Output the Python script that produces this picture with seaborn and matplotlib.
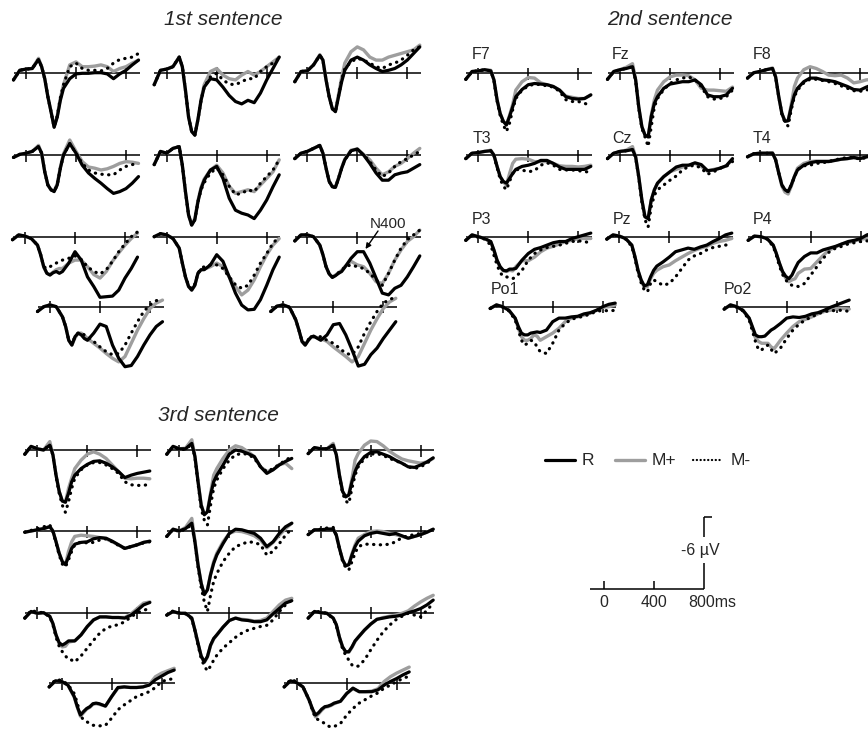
import matplotlib
matplotlib.use("Agg")
import matplotlib.pyplot as plt
import seaborn as sns

# time points (ms) shared by every waveform
T = [-100, -50, 0, 50, 100, 125, 150, 175, 200, 225, 250, 275, 300,
     350, 400, 450, 500, 550, 600, 650, 700, 750, 800, 850, 900]

# ---- 1st sentence (amplitudes in microvolts, negative up) ----
s1_11_R = [0.6, -0.2, -0.3, -0.35, -1.1, -0.5, 0.5, 2.0, 3.25, 4.55, 3.7, 2.3, 1.3, 0.5, 0.1, 0.05, 0.05, 0, 0, 0.1, 0.5, 0.1, -0.2, -0.65, -1.05]
s1_11_Mp = [0.6, -0.2, -0.3, -0.35, -1.2, -0.5, 0.5, 2.0, 3.2, 4.5, 3.6, 2.1, 1.0, -0.65, -0.9, -0.5, -0.5, -0.55, -0.65, -0.5, -0.1, -0.35, -0.5, -0.8, -1.05]
s1_11_Mm = [0.6, -0.2, -0.3, -0.35, -1.1, -0.5, 0.5, 2.0, 3.25, 4.5, 3.6, 2.1, 1.0, -0.5, -0.8, -0.35, -0.2, -0.2, -0.15, -0.35, -0.8, -1.1, -1.2, -1.3, -1.6]

s1_12_R = [1.0, -0.2, -0.3, -0.5, -1.3, -0.5, 1.45, 3.7, 4.9, 5.2, 3.9, 2.3, 1.2, 0.5, 0.6, 1.2, 1.9, 2.4, 2.6, 2.3, 2.5, 1.7, 0.6, -0.35, -1.3]
s1_12_Mp = [1.0, -0.2, -0.3, -0.5, -1.3, -0.5, 1.45, 3.7, 4.9, 5.2, 3.9, 2.2, 1.0, -0.1, -0.35, 0.2, 0.5, 0.6, 0.2, -0.1, 0.2, -0.1, -0.5, -0.9, -1.3]
s1_12_Mm = [1.0, -0.2, -0.3, -0.5, -1.3, -0.5, 1.45, 3.7, 4.9, 5.2, 3.9, 2.3, 1.2, 0.35, 0.05, 0.6, 0.95, 1.0, 0.75, 0.5, 0.5, -0.1, -0.5, -0.8, -1.2]

s1_13_R = [0.75, -0.1, -0.15, -0.65, -1.45, -1.05, 0.6, 2.0, 3.0, 3.25, 2.0, 0.75, -0.2, -1.05, -1.3, -1.05, -0.65, -0.35, -0.1, -0.2, -0.35, -0.65, -1.05, -1.6, -2.15]
s1_13_Mp = [0.75, -0.1, -0.15, -0.65, -1.5, -1.05, 0.6, 2.0, 3.0, 3.2, 1.8, 0.4, -0.8, -1.75, -2.15, -1.9, -1.3, -1.05, -1.05, -1.3, -1.45, -1.6, -1.75, -1.9, -2.3]
s1_13_Mm = [0.75, -0.1, -0.15, -0.65, -1.45, -1.05, 0.6, 2.0, 3.0, 3.25, 1.95, 0.6, -0.35, -0.9, -1.2, -1.05, -0.8, -0.5, -0.35, -0.65, -0.8, -1.05, -1.45, -1.9, -2.15]

s1_21_R = [0.2, -0.05, -0.15, -0.3, -0.7, -0.15, 1.4, 2.5, 2.9, 3.05, 2.5, 1.1, 0, -0.95, -0.15, 0.85, 1.5, 1.95, 2.35, 2.8, 3.2, 3.05, 2.8, 2.35, 1.8]
s1_21_Mp = [0.2, -0.05, -0.15, -0.3, -0.8, -0.15, 1.4, 2.5, 2.9, 3.0, 2.4, 1.0, -0.1, -1.25, -0.3, 0.55, 1.0, 1.1, 1.25, 1.15, 0.95, 0.7, 0.55, 0.6, 0.7]
s1_21_Mm = [0.2, -0.05, -0.15, -0.3, -0.7, -0.15, 1.4, 2.5, 2.9, 3.05, 2.5, 1.1, 0, -0.95, -0.15, 0.7, 1.25, 1.5, 1.6, 1.65, 1.65, 1.25, 0.95, 0.8, 0.7]

s1_22_R = [0.8, -0.3, -0.15, -0.55, -0.7, 0.85, 3.05, 5.0, 5.85, 5.4, 3.9, 2.8, 2.1, 1.25, 0.95, 1.95, 3.6, 4.6, 4.85, 5.0, 5.3, 4.6, 3.75, 2.65, 1.65]
s1_22_Mp = [0.8, -0.3, -0.15, -0.55, -0.7, 0.85, 3.05, 5.0, 5.8, 5.3, 3.8, 2.7, 2.0, 1.25, 0.85, 1.5, 2.6, 3.2, 3.05, 2.9, 3.05, 2.5, 1.95, 1.4, 0.4]
s1_22_Mm = [0.8, -0.3, -0.15, -0.55, -0.7, 0.85, 3.05, 5.0, 5.85, 5.4, 3.9, 2.9, 2.3, 1.5, 1.1, 1.65, 2.6, 3.3, 3.2, 2.9, 3.05, 2.35, 1.8, 1.25, 0.4]

s1_23_R = [0.3, -0.15, -0.3, -0.55, -0.8, -0.15, 1.1, 2.2, 2.65, 2.7, 1.95, 1.1, 0.4, -0.35, -0.5, 0, 0.7, 1.5, 2.1, 2.1, 1.65, 1.5, 1.4, 1.1, 0.8]
s1_23_Mp = [0.3, -0.15, -0.3, -0.55, -0.8, -0.15, 1.1, 2.2, 2.6, 2.65, 1.9, 1.05, 0.35, -0.4, -0.5, -0.05, 0.4, 1.1, 1.65, 1.4, 0.95, 0.7, 0.3, -0.15, -0.55]
s1_23_Mm = [0.3, -0.15, -0.3, -0.55, -0.8, -0.15, 1.1, 2.2, 2.65, 2.7, 1.95, 1.1, 0.4, -0.35, -0.45, 0, 0.55, 1.25, 1.8, 1.5, 0.95, 0.55, 0.3, 0, -0.3]

s1_31_R = [0.2, -0.2, -0.1, 0.1, 0.65, 1.45, 2.45, 3.0, 3.15, 2.95, 2.85, 3.0, 2.85, 2.15, 1.2, 1.9, 3.3, 4.1, 5.0, 4.95, 4.9, 4.4, 3.4, 2.6, 1.65]
s1_31_Mp = [0.2, -0.2, -0.1, 0.1, 0.65, 1.45, 2.5, 3.0, 3.1, 2.9, 2.7, 2.6, 2.6, 2.15, 1.9, 1.9, 2.45, 3.1, 3.4, 2.85, 2.0, 1.3, 0.65, 0.1, -0.35]
s1_31_Mm = [0.2, -0.2, -0.1, 0.1, 0.65, 1.45, 2.45, 2.6, 2.45, 2.3, 2.15, 2.0, 1.9, 1.75, 1.55, 1.85, 2.45, 2.85, 3.05, 2.7, 2.0, 1.2, 0.55, -0.05, -0.45]

s1_32_R = [-0.05, -0.3, -0.2, 0.1, 0.9, 2.15, 3.3, 4.1, 4.4, 4.0, 3.0, 2.7, 2.7, 2.3, 1.45, 2.0, 3.3, 4.65, 5.65, 6.05, 6.0, 5.2, 4.0, 2.7, 1.65]
s1_32_Mp = [-0.05, -0.3, -0.2, 0.1, 0.9, 2.15, 3.3, 4.1, 4.4, 4.0, 3.0, 2.7, 2.65, 2.45, 2.15, 2.45, 3.3, 4.1, 4.8, 4.4, 3.55, 2.45, 1.45, 0.65, 0.1]
s1_32_Mm = [-0.05, -0.3, -0.2, 0.1, 0.9, 2.15, 3.3, 4.0, 4.3, 3.9, 3.0, 2.6, 2.45, 2.3, 2.3, 2.6, 3.3, 3.95, 4.25, 4.0, 3.15, 2.15, 1.35, 0.5, -0.05]

s1_33_R = [0.3, -0.2, -0.2, -0.05, 0.65, 1.45, 2.45, 3.05, 3.35, 3.2, 3.0, 2.85, 2.5, 1.75, 1.2, 1.2, 2.15, 3.4, 4.65, 4.8, 4.25, 4.0, 3.3, 2.45, 1.55]
s1_33_Mp = [0.3, -0.2, -0.2, -0.05, 0.65, 1.45, 2.45, 3.05, 3.3, 3.15, 2.95, 2.75, 2.45, 2.0, 2.3, 2.45, 3.0, 3.7, 3.85, 3.0, 1.9, 1.05, 0.35, -0.05, -0.6]
s1_33_Mm = [0.3, -0.2, -0.2, -0.05, 0.65, 1.45, 2.45, 3.05, 3.3, 3.15, 2.95, 2.8, 2.45, 2.3, 2.45, 2.6, 3.0, 3.55, 4.0, 3.0, 1.9, 0.9, 0.2, -0.2, -0.6]

s1_41_R = [0.4, 0, -0.15, 0, 0.85, 1.65, 2.8, 3.2, 2.5, 2.2, 2.35, 2.65, 2.8, 2.2, 1.45, 1.65, 3.2, 4.3, 5.0, 4.9, 4.15, 3.2, 2.35, 1.65, 1.25]
s1_41_Mp = [0.4, 0, -0.15, 0, 0.85, 1.65, 2.8, 3.2, 2.6, 2.2, 2.2, 2.4, 2.65, 3.05, 3.45, 3.9, 4.3, 4.6, 4.15, 3.05, 1.95, 1.0, 0.15, -0.3, -0.55]
s1_41_Mm = [0.4, 0, -0.15, 0, 0.85, 1.65, 2.8, 3.1, 2.5, 2.2, 2.2, 2.35, 2.5, 2.9, 3.35, 3.75, 4.0, 3.9, 3.2, 2.2, 1.25, 0.4, -0.15, -0.5, -0.7]

s1_42_R = [0.4, -0.05, -0.15, 0.05, 1.1, 1.95, 2.9, 3.2, 2.8, 2.5, 2.5, 2.65, 2.8, 2.35, 1.5, 1.4, 2.35, 3.6, 4.95, 4.8, 4.0, 3.45, 2.65, 1.95, 1.25]
s1_42_Mp = [0.4, -0.05, -0.15, 0.05, 1.1, 1.95, 2.9, 3.2, 2.8, 2.5, 2.5, 2.6, 2.65, 2.9, 3.35, 3.75, 4.15, 4.6, 4.15, 3.05, 1.95, 1.0, 0.15, -0.4, -0.7]
s1_42_Mm = [0.4, -0.05, -0.15, 0.05, 1.1, 1.95, 2.9, 3.1, 2.75, 2.45, 2.45, 2.5, 2.5, 2.8, 3.05, 3.45, 3.9, 4.0, 3.35, 2.2, 1.25, 0.4, -0.3, -0.6, -0.8]

# ---- 2nd sentence, by electrode ----
f7_R = [0.5, -0.15, -0.2, -0.3, -0.2, 0.55, 2.2, 3.35, 4.0, 4.3, 3.6, 2.8, 1.95, 1.35, 0.95, 0.85, 0.9, 0.95, 1.1, 1.4, 1.95, 2.1, 2.15, 2.1, 1.8]
f7_Mp = [0.5, -0.15, -0.2, -0.3, -0.25, 0.55, 2.2, 3.35, 4.0, 4.3, 3.5, 2.6, 1.4, 0.7, 0.35, 0.4, 0.8, 0.95, 1.1, 1.4, 1.9, 2.0, 2.1, 2.1, 1.8]
f7_Mm = [0.5, -0.15, -0.2, -0.3, -0.2, 0.6, 2.3, 3.5, 4.3, 4.85, 4.15, 3.05, 2.1, 1.4, 1.05, 0.9, 0.95, 1.05, 1.15, 1.5, 2.2, 2.35, 2.35, 2.5, 2.7]

fz_R = [0.5, -0.15, -0.3, -0.4, -0.55, 0.55, 2.8, 4.45, 5.15, 5.3, 3.6, 2.5, 1.95, 1.25, 0.9, 0.8, 0.7, 0.7, 0.55, 0.95, 1.8, 1.95, 1.95, 1.8, 1.25]
fz_Mp = [0.5, -0.15, -0.3, -0.5, -0.8, 0.5, 2.8, 4.45, 5.15, 5.3, 3.5, 2.2, 1.4, 0.7, 0.3, 0.15, 0.15, 0.2, 0.55, 1.25, 1.4, 1.4, 1.45, 1.5, 1.15]
fz_Mm = [0.5, -0.15, -0.3, -0.4, -0.55, 0.6, 2.9, 4.6, 5.3, 6.1, 4.45, 2.8, 2.1, 1.35, 0.85, 0.55, 0.4, 0.3, 0.55, 1.1, 1.95, 2.15, 2.1, 1.95, 1.4]

f8_R = [0.4, -0.05, -0.15, -0.3, -0.4, 0.3, 1.95, 3.35, 4.0, 3.95, 2.8, 1.8, 1.25, 0.7, 0.4, 0.4, 0.55, 0.6, 0.7, 0.9, 1.1, 1.35, 1.4, 1.15, 0.95]
f8_Mp = [0.4, -0.05, -0.15, -0.3, -0.45, 0.3, 1.95, 3.35, 4.0, 3.95, 2.6, 1.1, 0.4, -0.3, -0.55, -0.4, -0.15, 0.15, 0.2, 0.15, 0.4, 0.8, 0.7, 0.55, 0.5]
f8_Mm = [0.4, -0.05, -0.15, -0.3, -0.4, 0.3, 1.95, 3.4, 4.1, 4.4, 3.05, 1.95, 1.4, 0.8, 0.5, 0.5, 0.6, 0.7, 0.85, 1.05, 1.25, 1.45, 1.5, 1.4, 1.25]

t3_R = [0.3, -0.15, -0.2, -0.3, -0.35, 0, 0.95, 1.8, 2.2, 2.35, 1.95, 1.55, 1.2, 0.95, 0.85, 0.7, 0.45, 0.45, 0.7, 1.0, 1.2, 1.2, 1.2, 1.2, 0.95]
t3_Mp = [0.3, -0.15, -0.2, -0.3, -0.4, 0, 0.95, 1.8, 2.25, 2.5, 1.55, 0.7, 0.35, 0.3, 0.35, 0.55, 0.55, 0.55, 0.7, 0.9, 0.95, 0.95, 1.0, 0.95, 0.85]
t3_Mm = [0.3, -0.15, -0.2, -0.3, -0.35, 0.05, 1.05, 2.0, 2.6, 2.9, 2.2, 1.55, 1.2, 1.25, 1.4, 1.3, 0.85, 0.65, 0.85, 1.2, 1.25, 1.25, 1.3, 1.4, 1.4]

cz_R = [0.3, -0.15, -0.3, -0.35, -0.45, 0.15, 1.8, 3.75, 5.15, 5.3, 3.75, 2.9, 2.35, 1.8, 1.4, 1.0, 0.85, 0.85, 0.65, 0.8, 1.3, 1.25, 1.1, 0.9, 0.3]
cz_Mp = [0.3, -0.15, -0.3, -0.4, -0.7, 0.15, 1.8, 3.75, 5.15, 5.3, 3.75, 2.9, 2.35, 1.8, 1.4, 1.2, 1.0, 0.85, 0.7, 0.95, 1.35, 1.2, 1.1, 0.9, 0.4]
cz_Mm = [0.3, -0.15, -0.3, -0.35, -0.45, 0.2, 1.9, 3.9, 5.4, 6.0, 4.3, 3.35, 2.9, 2.5, 2.1, 1.75, 1.25, 0.95, 0.85, 1.1, 1.6, 1.4, 1.1, 0.95, 0.55]

t4_R = [0.15, -0.1, -0.15, -0.15, -0.15, 0.4, 1.5, 2.5, 2.9, 3.05, 2.5, 1.8, 1.25, 0.85, 0.65, 0.55, 0.55, 0.55, 0.45, 0.35, 0.3, 0.2, 0.3, 0.15, 0]
t4_Mp = [0.15, -0.1, -0.15, -0.15, -0.2, 0.4, 1.5, 2.6, 3.1, 3.25, 2.6, 1.8, 1.1, 0.7, 0.55, 0.5, 0.5, 0.5, 0.45, 0.35, 0.3, 0.25, 0.3, 0.2, 0.05]
t4_Mm = [0.15, -0.1, -0.15, -0.15, -0.15, 0.4, 1.5, 2.5, 2.9, 3.05, 2.5, 1.85, 1.2, 0.9, 0.85, 0.7, 0.65, 0.55, 0.4, 0.3, 0.2, 0.2, 0.35, 0.2, 0.15]

p3_R = [0.3, -0.15, 0, 0.15, 0.4, 1.1, 1.95, 2.5, 2.8, 2.85, 2.7, 2.7, 2.65, 1.95, 1.4, 1.05, 0.9, 0.7, 0.5, 0.4, 0.4, 0.15, 0, -0.15, -0.3]
p3_Mp = [0.3, -0.15, 0, 0.15, 0.45, 1.15, 2.0, 2.55, 2.85, 2.9, 2.8, 2.85, 2.5, 2.0, 2.0, 1.7, 1.25, 0.95, 0.8, 0.6, 0.4, 0.3, 0.15, 0.15, 0.15]
p3_Mm = [0.3, -0.1, 0.05, 0.2, 0.7, 1.55, 2.35, 3.0, 3.3, 3.35, 3.4, 3.5, 3.35, 2.8, 1.95, 1.4, 1.1, 0.9, 0.8, 0.7, 0.55, 0.4, 0.35, 0.4, 0.55]

pz_R = [0.2, -0.15, -0.05, 0.15, 0.7, 1.65, 2.8, 3.6, 4.1, 4.0, 3.35, 2.8, 2.45, 2.1, 1.7, 1.25, 1.1, 0.95, 1.05, 0.85, 0.7, 0.4, 0.15, -0.15, -0.3]
pz_Mp = [0.2, -0.15, -0.05, 0.15, 0.7, 1.65, 2.85, 3.7, 4.2, 4.15, 3.5, 3.05, 2.8, 2.5, 2.35, 2.0, 1.7, 1.4, 1.15, 0.95, 0.8, 0.55, 0.4, 0.3, 0.15]
pz_Mm = [0.2, -0.1, 0, 0.2, 0.8, 1.8, 3.0, 3.85, 4.45, 4.6, 3.9, 3.6, 3.75, 4.05, 3.9, 3.35, 2.65, 1.95, 1.6, 1.4, 1.1, 0.9, 0.8, 0.7, 0.6]

p4_R = [0.3, -0.05, 0, 0.15, 0.7, 1.4, 2.2, 2.9, 3.3, 3.5, 3.2, 2.65, 2.15, 1.65, 1.35, 1.35, 1.1, 0.95, 0.8, 0.6, 0.4, 0.3, 0.15, -0.15, -0.3]
p4_Mp = [0.3, -0.05, 0, 0.15, 0.7, 1.4, 2.25, 3.0, 3.45, 3.75, 3.6, 3.5, 3.05, 2.7, 2.65, 2.1, 1.55, 1.1, 0.85, 0.6, 0.5, 0.35, 0.2, 0.15, 0.15]
p4_Mm = [0.3, -0.05, 0, 0.2, 0.8, 1.55, 2.45, 3.15, 3.6, 3.9, 4.05, 4.05, 4.15, 3.9, 3.2, 2.5, 1.8, 1.25, 0.95, 0.8, 0.6, 0.5, 0.4, 0.35, 0.3]

po1_R = [0.15, -0.15, 0, 0.3, 0.95, 1.65, 2.2, 2.35, 2.35, 2.2, 2.15, 2.1, 2.15, 1.95, 1.25, 0.95, 0.95, 0.85, 0.8, 0.6, 0.5, 0.3, 0, -0.2, -0.3]
po1_Mp = [0.15, -0.15, 0, 0.3, 1.0, 1.8, 2.5, 2.8, 2.8, 2.65, 2.35, 2.45, 2.8, 2.5, 2.2, 1.8, 1.25, 0.95, 0.85, 0.7, 0.55, 0.3, 0.05, 0, -0.15]
po1_Mm = [0.15, -0.1, 0.05, 0.35, 1.1, 1.95, 2.8, 3.2, 3.05, 2.8, 2.9, 3.35, 3.75, 3.9, 3.05, 1.95, 1.4, 1.05, 0.9, 0.8, 0.6, 0.4, 0.3, 0.35, 0.3]

po2_R = [0.2, -0.15, 0, 0.3, 0.95, 1.65, 2.35, 2.5, 2.5, 2.45, 2.2, 1.95, 1.8, 1.4, 0.95, 0.85, 0.9, 0.8, 0.6, 0.5, 0.3, 0.05, -0.15, -0.35, -0.55]
po2_Mp = [0.2, -0.15, 0, 0.3, 1.0, 1.8, 2.6, 2.9, 3.05, 3.05, 3.05, 3.35, 3.5, 2.8, 2.2, 1.65, 1.25, 1.05, 0.85, 0.6, 0.4, 0.3, 0.15, 0.15, 0.2]
po2_Mm = [0.2, -0.1, 0.05, 0.35, 1.1, 2.0, 2.9, 3.6, 3.6, 3.35, 3.2, 3.55, 3.9, 3.45, 2.65, 1.95, 1.45, 1.1, 0.85, 0.6, 0.4, 0.35, 0.3, 0.3, 0.4]

# ---- 3rd sentence ----
s3_11_R = [0.35, -0.3, -0.1, 0, -0.4, 0.4, 2.1, 3.45, 4.25, 4.35, 3.6, 2.65, 2.1, 1.55, 1.2, 0.95, 0.9, 1.1, 1.4, 1.8, 2.3, 2.1, 1.95, 1.85, 1.75]
s3_11_Mp = [0.35, -0.3, -0.1, 0, -0.7, 0.4, 2.1, 3.45, 4.25, 4.35, 3.2, 2.35, 1.55, 0.85, 0.35, 0.15, 0.35, 0.7, 1.25, 1.8, 2.35, 2.4, 2.35, 2.35, 2.4]
s3_11_Mm = [0.35, -0.3, -0.1, 0, -0.45, 0.45, 2.2, 3.6, 4.6, 5.2, 4.3, 3.2, 2.35, 1.65, 1.25, 1.05, 1.05, 1.25, 1.55, 1.95, 2.65, 2.9, 2.95, 2.95, 2.85]

s3_12_R = [0.35, -0.3, -0.1, -0.1, -0.55, 0.55, 2.65, 4.6, 5.4, 5.15, 3.75, 2.65, 2.1, 1.25, 0.35, 0, 0.1, 0.3, 0.55, 1.4, 1.95, 1.65, 1.25, 0.95, 0.7]
s3_12_Mp = [0.35, -0.3, -0.1, -0.15, -0.85, 0.5, 2.6, 4.55, 5.35, 5.1, 3.6, 2.1, 1.55, 0.7, 0, -0.35, -0.2, 0.15, 0.55, 1.4, 1.8, 1.65, 1.2, 1.1, 1.55]
s3_12_Mm = [0.35, -0.25, -0.05, -0.05, -0.5, 0.6, 2.8, 4.9, 5.85, 6.25, 4.6, 3.2, 2.5, 1.55, 0.85, 0.4, 0.3, 0.35, 0.7, 1.4, 1.8, 1.55, 1.2, 0.85, 0.55]

s3_13_R = [0.3, -0.2, -0.1, -0.1, -0.4, 0.4, 2.1, 3.45, 3.9, 3.75, 2.65, 1.8, 1.2, 0.55, 0.2, 0.15, 0.35, 0.55, 0.85, 1.1, 1.4, 1.45, 1.25, 1.0, 0.65]
s3_13_Mp = [0.3, -0.2, -0.1, -0.1, -0.55, 0.4, 2.1, 3.45, 3.9, 3.7, 2.4, 0.85, 0.3, -0.4, -0.75, -0.7, -0.35, 0.1, 0.45, 0.75, 0.9, 1.0, 1.1, 1.0, 0.7]
s3_13_Mm = [0.3, -0.2, -0.1, -0.1, -0.4, 0.45, 2.2, 3.6, 4.25, 4.45, 3.2, 2.1, 1.4, 0.7, 0.35, 0.3, 0.45, 0.7, 0.9, 1.1, 1.4, 1.55, 1.4, 1.1, 0.7]

s3_21_R = [0.1, 0, -0.1, -0.2, -0.35, 0, 0.9, 1.85, 2.55, 2.8, 2.15, 1.45, 1.1, 0.95, 0.9, 0.65, 0.55, 0.6, 0.85, 1.15, 1.45, 1.3, 1.15, 0.95, 0.85]
s3_21_Mp = [0.1, 0, -0.1, -0.2, -0.4, 0, 0.9, 1.85, 2.55, 2.8, 1.7, 0.9, 0.45, 0.35, 0.4, 0.45, 0.55, 0.65, 0.9, 1.15, 1.45, 1.3, 1.15, 0.95, 0.85]
s3_21_Mm = [0.1, -0.05, -0.2, -0.35, -0.5, 0.05, 1.0, 2.0, 2.75, 3.0, 2.4, 1.7, 1.15, 0.9, 1.0, 0.95, 0.75, 0.65, 0.9, 1.2, 1.45, 1.3, 1.15, 1.0, 0.9]

s3_22_R = [0.45, -0.15, 0, -0.2, -0.65, 0.9, 2.85, 4.35, 5.3, 4.9, 3.65, 2.7, 2.0, 1.05, 0.2, -0.15, -0.1, 0.05, 0.2, 0.6, 1.3, 0.9, 0.2, -0.35, -0.65]
s3_22_Mp = [0.45, -0.15, 0, -0.3, -1.05, 0.8, 2.8, 4.35, 5.3, 4.9, 3.6, 2.55, 1.85, 0.9, 0.2, 0, 0.05, 0.2, 0.4, 0.75, 1.4, 0.95, 0.35, -0.2, -0.65]
s3_22_Mm = [0.45, -0.15, 0.05, -0.15, -0.55, 1.0, 3.0, 4.7, 5.9, 6.7, 5.35, 4.2, 3.55, 2.55, 1.85, 1.3, 1.1, 0.9, 0.95, 1.15, 2.0, 1.7, 1.05, 0.35, -0.2]

s3_23_R = [0.3, -0.1, -0.1, -0.15, -0.15, 0.35, 1.45, 2.4, 2.9, 2.8, 2.0, 1.3, 0.85, 0.4, 0.2, 0.1, 0.2, 0.3, 0.2, 0.4, 0.6, 0.45, 0.3, 0.1, -0.15]
s3_23_Mp = [0.3, -0.1, -0.1, -0.15, -0.2, 0.35, 1.45, 2.4, 2.9, 2.8, 1.9, 1.15, 0.6, 0.3, 0.05, 0, 0.05, 0.2, 0.3, 0.45, 0.6, 0.45, 0.3, 0.1, -0.15]
s3_23_Mm = [0.3, -0.1, -0.15, -0.25, -0.3, 0.35, 1.5, 2.5, 3.05, 3.25, 2.55, 1.85, 1.3, 1.1, 1.1, 1.15, 1.15, 1.1, 0.9, 0.55, 0.4, 0.3, 0.2, 0.05, -0.1]

s3_31_R = [0.45, -0.1, 0.05, 0, 0.3, 0.9, 1.85, 2.5, 2.7, 2.55, 2.35, 2.35, 2.35, 1.85, 1.15, 0.6, 0.35, 0.35, 0.4, 0.4, 0.45, 0.2, -0.2, -0.65, -0.85]
s3_31_Mp = [0.45, -0.1, 0.05, 0, 0.3, 0.95, 1.9, 2.6, 2.85, 2.8, 2.45, 2.4, 2.35, 1.85, 1.15, 0.6, 0.35, 0.35, 0.4, 0.4, 0.4, 0.1, -0.35, -0.8, -0.9]
s3_31_Mm = [0.45, -0.2, -0.05, 0, 0.35, 1.0, 2.05, 2.8, 3.25, 3.6, 3.9, 3.95, 4.1, 3.6, 2.95, 2.3, 1.7, 1.3, 1.1, 1.0, 0.75, 0.35, 0, -0.2, -0.35]

s3_32_R = [0.2, -0.1, 0.05, 0.05, 0.45, 1.45, 2.55, 3.6, 4.1, 3.65, 2.7, 2.15, 1.85, 1.2, 0.65, 0.45, 0.6, 0.65, 0.75, 0.75, 0.6, 0.1, -0.35, -0.8, -1.0]
s3_32_Mp = [0.2, -0.1, 0.05, 0.05, 0.45, 1.45, 2.6, 3.65, 4.15, 3.7, 2.75, 2.2, 1.85, 1.2, 0.65, 0.45, 0.55, 0.6, 0.7, 0.65, 0.45, -0.1, -0.65, -1.05, -1.2]
s3_32_Mm = [0.2, -0.15, 0, 0.1, 0.5, 1.5, 2.7, 3.8, 4.45, 4.85, 4.45, 3.95, 3.55, 2.95, 2.5, 2.05, 1.7, 1.45, 1.3, 1.15, 1.05, 0.6, -0.1, -0.65, -1.05]

s3_33_R = [0.45, -0.1, 0, 0.05, 0.45, 1.0, 2.05, 2.85, 3.25, 3.25, 2.85, 2.35, 2.05, 1.45, 0.95, 0.55, 0.45, 0.35, 0.3, 0.2, 0, -0.15, -0.35, -0.65, -1.05]
s3_33_Mp = [0.45, -0.1, 0, 0.05, 0.45, 1.0, 2.05, 2.85, 3.3, 3.3, 2.9, 2.4, 2.05, 1.45, 0.95, 0.55, 0.4, 0.3, 0.2, 0.05, -0.15, -0.55, -0.9, -1.2, -1.45]
s3_33_Mm = [0.45, -0.15, -0.05, 0.05, 0.5, 1.05, 2.15, 3.0, 3.55, 3.95, 4.35, 4.5, 4.45, 3.95, 3.1, 2.3, 1.6, 1.05, 0.6, 0.3, 0.05, 0.2, 0.35, -0.2, -0.8]

s3_41_R = [0.3, -0.2, -0.15, 0.15, 1.1, 1.95, 2.65, 2.35, 2.1, 1.95, 1.7, 1.65, 1.7, 1.9, 1.1, 0.35, 0.3, 0.35, 0.35, 0.3, 0.15, -0.3, -0.6, -0.9, -1.1]
s3_41_Mp = [0.3, -0.2, -0.15, 0.15, 1.15, 2.0, 2.75, 2.45, 2.15, 2.0, 1.75, 1.7, 1.75, 1.9, 1.1, 0.4, 0.3, 0.35, 0.35, 0.3, 0.1, -0.55, -0.85, -1.05, -1.25]
s3_41_Mm = [0.3, -0.3, -0.25, 0.1, 0.85, 1.65, 2.7, 3.05, 3.2, 3.35, 3.5, 3.5, 3.55, 3.5, 2.9, 2.2, 1.8, 1.45, 1.1, 0.9, 0.7, 0.35, -0.15, -0.3, -0.4]

s3_42_R = [0.3, -0.2, -0.05, 0.3, 1.4, 2.1, 2.65, 2.45, 2.15, 1.95, 1.9, 1.8, 1.65, 1.5, 0.85, 0.4, 0.7, 0.7, 0.7, 0.55, 0.15, -0.15, -0.4, -0.7, -0.95]
s3_42_Mp = [0.3, -0.2, -0.05, 0.3, 1.45, 2.2, 2.8, 2.55, 2.25, 2.0, 1.95, 1.85, 1.7, 1.5, 0.85, 0.45, 0.7, 0.7, 0.65, 0.45, -0.15, -0.55, -0.85, -1.1, -1.35]
s3_42_Mm = [0.3, -0.3, -0.15, 0.3, 1.4, 2.2, 2.9, 3.05, 3.2, 3.35, 3.55, 3.65, 3.6, 3.35, 2.65, 2.1, 1.65, 1.35, 1.05, 0.8, 0.4, 0.15, -0.15, -0.4, -0.6]

TICKS = [0, 400, 800]
LEGEND = ["R", "M+", "M-"]

# ---- layout (pixel positions in the 868x729 picture) ----
W, H = 868, 729
PX_MS = 0.125   # px per ms
PX_UV = 12.0    # px per microvolt
GRAY = "#9e9e9e"

# (x of 0 ms, y of baseline, R, M+, M-)
panels = [
    (26, 72.7, s1_11_R, s1_11_Mp, s1_11_Mm),
    (166.7, 72.7, s1_12_R, s1_12_Mp, s1_12_Mm),
    (307.3, 72.7, s1_13_R, s1_13_Mp, s1_13_Mm),
    (26, 155, s1_21_R, s1_21_Mp, s1_21_Mm),
    (166.7, 155, s1_22_R, s1_22_Mp, s1_22_Mm),
    (307.3, 155, s1_23_R, s1_23_Mp, s1_23_Mm),
    (25, 237.3, s1_31_R, s1_31_Mp, s1_31_Mm),
    (166.7, 237.3, s1_32_R, s1_32_Mp, s1_32_Mm),
    (307.3, 237.3, s1_33_R, s1_33_Mp, s1_33_Mm),
    (50, 306.7, s1_41_R, s1_41_Mp, s1_41_Mm),
    (283.3, 306.7, s1_42_R, s1_42_Mp, s1_42_Mm),
    (478.3, 73.3, f7_R, f7_Mp, f7_Mm),
    (620, 73.3, fz_R, fz_Mp, fz_Mm),
    (760, 73.3, f8_R, f8_Mp, f8_Mm),
    (478.3, 155, t3_R, t3_Mp, t3_Mm),
    (620, 155, cz_R, cz_Mp, cz_Mm),
    (760, 155, t4_R, t4_Mp, t4_Mm),
    (478.3, 236.7, p3_R, p3_Mp, p3_Mm),
    (619.3, 236.7, pz_R, pz_Mp, pz_Mm),
    (760.7, 236.7, p4_R, p4_Mp, p4_Mm),
    (502.7, 306.7, po1_R, po1_Mp, po1_Mm),
    (736.7, 306.7, po2_R, po2_Mp, po2_Mm),
    (37.3, 450, s3_11_R, s3_11_Mp, s3_11_Mm),
    (179.3, 450, s3_12_R, s3_12_Mp, s3_12_Mm),
    (320.7, 450, s3_13_R, s3_13_Mp, s3_13_Mm),
    (37.3, 531, s3_21_R, s3_21_Mp, s3_21_Mm),
    (179.3, 531, s3_22_R, s3_22_Mp, s3_22_Mm),
    (320.7, 531, s3_23_R, s3_23_Mp, s3_23_Mm),
    (37.3, 612.7, s3_31_R, s3_31_Mp, s3_31_Mm),
    (179.3, 612.7, s3_32_R, s3_32_Mp, s3_32_Mm),
    (320.7, 612.7, s3_33_R, s3_33_Mp, s3_33_Mm),
    (61.7, 683.3, s3_41_R, s3_41_Mp, s3_41_Mm),
    (296.7, 683.3, s3_42_R, s3_42_Mp, s3_42_Mm),
]

electrodes = [("F7", 471.7, 54), ("Fz", 611.7, 54), ("F8", 752.7, 54),
              ("T3", 472.5, 138), ("Cz", 612.5, 138), ("T4", 753, 138),
              ("P3", 471.7, 219), ("Pz", 612.5, 219), ("P4", 753, 219),
              ("Po1", 490.7, 289), ("Po2", 724, 289)]

sns.set_style("white")
plt.rcParams["font.family"] = ["Liberation Sans", "DejaVu Sans"]

fig = plt.figure(figsize=(W / 100, H / 100), dpi=100)


def panel_ax(x0, y0):
    # axes whose data units are ms / microvolts at a fixed pixel scale
    left = (x0 - 150 * PX_MS) / W
    bottom = 1 - (y0 + 7 * PX_UV) / H
    ax = fig.add_axes([left, bottom, 1100 * PX_MS / W, 10 * PX_UV / H])
    ax.patch.set_alpha(0)
    return ax


def finish(ax):
    ax.set_xlim(-150, 950)
    ax.set_ylim(7, -3)   # negative up
    ax.axis("off")


dot_style = (0, (0.1, 2.0))

for x0, y0, r, mp, mm in panels:
    ax = panel_ax(x0, y0)
    ax.hlines(0, -100, 910, color="black", lw=1.1)
    ax.vlines(TICKS, -0.45, 0.55, color="black", lw=1.1)
    sns.lineplot(x=T, y=mp, ax=ax, color=GRAY, lw=2.4, solid_capstyle="round",
                 legend=False, clip_on=False)
    sns.lineplot(x=T, y=mm, ax=ax, color="black", lw=2.3, linestyle=dot_style,
                 dash_capstyle="round", legend=False, clip_on=False)
    sns.lineplot(x=T, y=r, ax=ax, color="black", lw=2.3, solid_capstyle="round",
                 legend=False, clip_on=False)
    finish(ax)

# scale bar, same scale as the panels
sb = panel_ax(604, 589)
sb.hlines(0, -112, 800, color="black", lw=1.1)
sb.vlines(TICKS[:2], -0.7, 0, color="black", lw=1.1)
sb.vlines(TICKS[2], -2.15, 0, color="black", lw=1.1)
sb.vlines(TICKS[2], -6, -4.3, color="black", lw=1.1, clip_on=False)
sb.hlines(-6, 800, 860, color="black", lw=1.1, clip_on=False)
sb.text(770, -3.2, "-6 µV", ha="center", va="center", fontsize=11.5)
sb.text(0, 1.15, "0", ha="center", va="center", fontsize=11.5)
sb.text(400, 1.15, "400", ha="center", va="center", fontsize=11.5)
sb.text(864, 1.15, "800ms", ha="center", va="center", fontsize=11.5)
finish(sb)

# overlay in pixel coordinates for titles, labels, legend
ov = fig.add_axes([0, 0, 1, 1])
ov.patch.set_alpha(0)
ov.set_xlim(0, W)
ov.set_ylim(H, 0)
ov.axis("off")

ov.text(223, 19, "1st sentence", ha="center", va="center", fontsize=15, style="italic")
ov.text(670, 19, "2nd sentence", ha="center", va="center", fontsize=15, style="italic")
ov.text(218, 415, "3rd sentence", ha="center", va="center", fontsize=15, style="italic")

for name, x, y in electrodes:
    ov.text(x, y, name, ha="left", va="center", fontsize=11.5)

ov.text(388, 224, "N400", ha="center", va="center", fontsize=11)
ov.annotate("", xy=(365.5, 249), xytext=(378, 231),
            arrowprops=dict(arrowstyle="-|>", color="black", lw=1.0,
                            mutation_scale=8, shrinkA=0, shrinkB=0))

# legend
ov.plot([545, 575], [460, 460], color="black", lw=2.3)
ov.text(582, 460, LEGEND[0], ha="left", va="center", fontsize=12.5)
ov.plot([615, 645], [460, 460], color=GRAY, lw=2.4)
ov.text(652, 460, LEGEND[1], ha="left", va="center", fontsize=12.5)
ov.plot([693, 723], [460, 460], color="black", lw=1.6, linestyle=(0, (0.1, 1.6)),
        dash_capstyle="round")
ov.text(731, 460, LEGEND[2], ha="left", va="center", fontsize=12.5)

fig.savefig("out.png", dpi=100)
